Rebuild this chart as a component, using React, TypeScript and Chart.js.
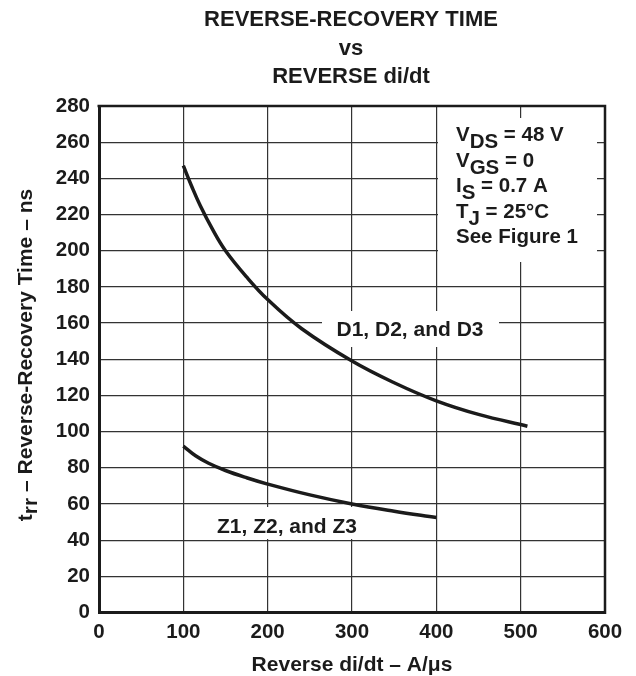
import React, { useEffect, useRef } from "react";
import { Chart, registerables } from "chart.js";

Chart.register(...registerables);

// ---- data ----
const xTickValues = [0, 100, 200, 300, 400, 500, 600];
const yTickValues = [0, 20, 40, 60, 80, 100, 120, 140, 160, 180, 200, 220, 240, 260, 280];

const dX = [100, 110, 120, 135, 150, 175, 200, 240, 300, 350, 400, 450, 508];
const dY = [247, 235.5, 225, 211.5, 200, 185.5, 173, 157, 139, 127, 117, 109.5, 103];

const zX = [100, 115, 130, 150, 175, 200, 250, 300, 350, 400];
const zY = [92, 86.5, 82.5, 78.5, 74.5, 71, 65, 60, 56, 52.5];

const titleLines = ["REVERSE-RECOVERY TIME", "vs", "REVERSE di/dt"];
const xAxisTitle = "Reverse di/dt \u2013 A/\u03bcs";
const yAxisTitleMain = "t";
const yAxisTitleSub = "rr";
const yAxisTitleRest = " \u2013 Reverse-Recovery Time \u2013 ns";
const conditionLines: [string, string, string][] = [
  ["V", "DS", " = 48 V"],
  ["V", "GS", " = 0"],
  ["I", "S", " = 0.7 A"],
  ["T", "J", " = 25\u00b0C"],
  ["See Figure 1", "", ""],
];
const curveLabelD = "D1, D2, and D3";
const curveLabelZ = "Z1, Z2, and Z3";

const INK = "#1b1b1b";
const GRID = "#333333";
const FONT = '"Liberation Sans", Arial, Helvetica, sans-serif';

function font(size: number) {
  return `bold ${size}px ${FONT}`;
}

const overlayPlugin = {
  id: "overlay",
  beforeDatasetsDraw(chart: any) {
    const ctx: CanvasRenderingContext2D = chart.ctx;
    const { left, right, top, bottom } = chart.chartArea;
    ctx.save();
    // top and right frame
    ctx.strokeStyle = INK;
    ctx.lineWidth = 2.5;
    ctx.beginPath();
    ctx.moveTo(left - 1.5, top);
    ctx.lineTo(right, top);
    ctx.lineTo(right, bottom + 1.5);
    ctx.stroke();

    // white label backgrounds
    ctx.fillStyle = "#ffffff";
    ctx.fillRect(438, 118, 159, 144);
    ctx.fillRect(322, 311, 177, 36);
    ctx.fillRect(205, 507, 166, 32);

    ctx.fillStyle = INK;
    ctx.textBaseline = "alphabetic";
    ctx.textAlign = "left";

    // conditions box
    const cs = 20.5;
    ctx.font = font(cs);
    const baselines = [141, 166.5, 192, 217.5, 243];
    conditionLines.forEach((parts, i) => {
      let x = 456;
      const y = baselines[i];
      ctx.fillText(parts[0], x, y);
      x += ctx.measureText(parts[0]).width;
      if (parts[1]) {
        ctx.fillText(parts[1], x, y + 7);
        x += ctx.measureText(parts[1]).width;
      }
      if (parts[2]) ctx.fillText(parts[2], x, y);
    });

    // curve labels
    ctx.font = font(21);
    ctx.textAlign = "center";
    ctx.fillText(curveLabelD, 410, 336);
    ctx.fillText(curveLabelZ, 287, 533);
    ctx.restore();
  },
  afterDraw(chart: any) {
    const ctx: CanvasRenderingContext2D = chart.ctx;
    ctx.save();
    ctx.fillStyle = INK;
    ctx.textBaseline = "alphabetic";
    ctx.textAlign = "center";
    ctx.font = font(22);
    const tb = [26, 55, 83];
    titleLines.forEach((t, i) => ctx.fillText(t, 351, tb[i]));

    ctx.font = font(21);
    ctx.fillText(xAxisTitle, 352, 671);

    // y-axis title (rotated)
    ctx.translate(32, 355);
    ctx.rotate(-Math.PI / 2);
    ctx.textAlign = "left";
    const w1 = ctx.measureText(yAxisTitleMain).width;
    const w2 = ctx.measureText(yAxisTitleSub).width;
    const w3 = ctx.measureText(yAxisTitleRest).width;
    let x = -(w1 + w2 + w3) / 2;
    ctx.fillText(yAxisTitleMain, x, 0);
    x += w1;
    ctx.fillText(yAxisTitleSub, x, 5);
    x += w2;
    ctx.fillText(yAxisTitleRest, x, 0);
    ctx.restore();
  },
};

export default function App() {
  const ref = useRef<HTMLCanvasElement | null>(null);

  useEffect(() => {
    if (!ref.current) return;
    const chart = new Chart(ref.current, {
      type: "scatter",
      data: {
        datasets: [
          {
            label: curveLabelD,
            data: dX.map((x, i) => ({ x, y: dY[i] })),
            showLine: true,
            borderColor: INK,
            borderWidth: 3.5,
            pointRadius: 0,
            tension: 0.4,
            borderCapStyle: "butt",
            borderJoinStyle: "round",
          },
          {
            label: curveLabelZ,
            data: zX.map((x, i) => ({ x, y: zY[i] })),
            showLine: true,
            borderColor: INK,
            borderWidth: 3.5,
            pointRadius: 0,
            tension: 0.4,
            borderCapStyle: "butt",
            borderJoinStyle: "round",
          },
        ],
      },
      options: {
        animation: false,
        responsive: false,
        devicePixelRatio: 1,
        layout: { padding: { top: 106, right: 31, left: 0, bottom: 0 } },
        plugins: {
          legend: { display: false },
          tooltip: { enabled: false },
          title: { display: false },
        },
        scales: {
          x: {
            type: "linear",
            min: 0,
            max: 600,
            afterBuildTicks: (scale: any) => {
              scale.ticks = xTickValues.map((v) => ({ value: v }));
            },
            afterFit: (scale: any) => {
              scale.height = 63.5;
            },
            ticks: {
              color: INK,
              font: { family: FONT, size: 20.5, weight: "bold" },
              padding: 8,
              maxRotation: 0,
              autoSkip: false,
            },
            grid: { color: GRID, lineWidth: 1.2, drawTicks: false },
            border: { display: true, color: INK, width: 3 },
          },
          y: {
            type: "linear",
            min: 0,
            max: 280,
            afterBuildTicks: (scale: any) => {
              scale.ticks = yTickValues.map((v) => ({ value: v }));
            },
            afterFit: (scale: any) => {
              scale.width = 99;
            },
            ticks: {
              color: INK,
              font: { family: FONT, size: 20.5, weight: "bold" },
              padding: 9,
              autoSkip: false,
            },
            grid: { color: GRID, lineWidth: 1.2, drawTicks: false },
            border: { display: true, color: INK, width: 3 },
          },
        },
      },
      plugins: [overlayPlugin],
    } as any);
    return () => chart.destroy();
  }, []);

  return (
    <div style={{ position: "absolute", left: 0, top: 0, width: 636, height: 676, background: "#fff" }}>
      <canvas ref={ref} width={636} height={676} style={{ display: "block", width: 636, height: 676 }} />
    </div>
  );
}
